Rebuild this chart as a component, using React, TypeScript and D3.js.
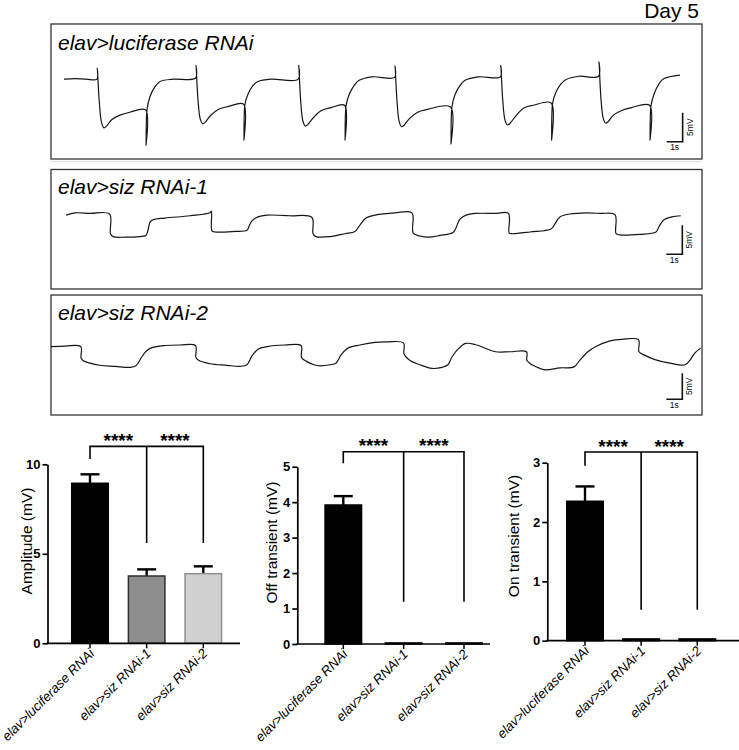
import { useEffect, useRef } from 'react';
import * as d3 from 'd3';

const W = 739;
const H = 750;
const FONT = 'Arial, "Liberation Sans", Helvetica, sans-serif';

const genotypes = ['elav>luciferase RNAi', 'elav>siz RNAi-1', 'elav>siz RNAi-2'];

// ERG recordings, [time (s), potential (mV) relative to the dark baseline]
const traceLuciferase: [number, number][] = [
  [0.81, -0.2], [1.5, -0.1], [2.2, -0.2], [2.87, -0.2],
  [2.89, 1.7], [3.01, -3.8], [3.16, -7.7], [3.31, -8.6], [3.47, -8.3], [3.79, -7.2], [4.31, -6.4], [4.93, -5.9], [5.91, -5.5],
  [5.94, -11.6], [6.0, -5.5], [6.19, -3.2], [6.5, -1.5], [6.82, -0.6], [7.64, -0.2], [9.04, 0],
  [9.06, 2.2], [9.18, -3.5], [9.33, -7.1], [9.48, -7.9], [9.64, -7.6], [9.96, -6.5], [10.48, -5.4], [11.1, -4.9], [12.03, -4.5],
  [12.06, -10.7], [12.12, -4.6], [12.31, -2.8], [12.62, -1.3], [12.94, -0.6], [13.76, -0.2], [15.46, -0.2],
  [15.48, 2.2], [15.6, -3.7], [15.75, -7.5], [15.9, -8.3], [16.06, -8.0], [16.38, -6.9], [16.9, -5.6], [17.52, -5.1], [18.35, -4.7],
  [18.38, -10.7], [18.44, -4.8], [18.63, -2.9], [18.94, -1.3], [19.26, -0.4], [20.08, 0.2], [21.48, 0.1],
  [21.5, 2.1], [21.62, -3.7], [21.77, -7.6], [21.92, -8.4], [22.08, -8.1], [22.4, -7.0], [22.92, -5.9], [23.54, -5.4], [24.97, -5.0],
  [25.0, -11.4], [25.06, -5.0], [25.25, -2.9], [25.56, -1.3], [25.88, -0.4], [26.7, 0.2], [28.09, 0.2],
  [28.11, 2.2], [28.23, -3.6], [28.38, -7.3], [28.53, -8.1], [28.69, -7.8], [29.01, -6.7], [29.53, -5.2], [30.15, -4.7], [31.26, -4.3],
  [31.29, -10.7], [31.35, -4.4], [31.54, -2.6], [31.85, -1.1], [32.17, -0.3], [32.99, 0.3], [34.23, 0.3],
  [34.25, 2.8], [34.37, -3.4], [34.52, -7.0], [34.67, -7.8], [34.83, -7.5], [35.15, -6.4], [35.67, -5.6], [36.29, -5.1], [37.41, -4.7],
  [37.44, -10.7], [37.5, -4.8], [37.69, -2.8], [38.0, -1.0], [38.32, -0.1], [39.31, 0.5],
];

const traceSiz1: [number, number][] = [
  [0.94, -0.2], [1.5, 0.2], [2.44, 0.1], [3.66, 0],
  [3.72, -3.4], [3.88, -3.9], [4.63, -4.0], [5.56, -3.9], [5.94, -3.7],
  [6.06, -2.8], [6.19, -1.4], [6.38, -1.0], [7.13, -0.7], [8.69, -0.3], [9.94, 0.2], [10.03, 0.5],
  [10.06, -2.9], [10.25, -3.1], [11.5, -3.0], [12.25, -2.8],
  [12.38, -2.1], [12.56, -1.2], [12.94, -0.5], [13.5, -0.2], [14.94, -0.3], [16.31, -0.6],
  [16.38, -3.4], [16.56, -3.9], [17.44, -3.9], [18.38, -3.4], [19.0, -3.0],
  [19.31, -1.9], [19.69, -0.7], [20.25, -0.2], [21.5, 0.2], [22.56, 0.2],
  [22.64, -3.3], [23.06, -3.8], [23.63, -4.0], [24.31, -3.7], [25.13, -3.2],
  [25.31, -2.4], [25.56, -0.9], [25.94, -0.2], [26.56, 0.1], [27.75, 0.1], [28.59, 0.1],
  [28.64, -3.3], [28.81, -3.4], [29.94, -3.1], [31.25, -2.6],
  [31.5, -1.7], [31.81, -0.5], [32.44, 0], [33.44, 0.2], [34.31, 0.1], [35.25, -0.1],
  [35.32, -3.4], [35.56, -3.6], [36.81, -3.5], [37.81, -3.1],
  [38.0, -2.2], [38.31, -1.0], [38.81, -0.5], [39.36, -0.3],
];

const traceSiz2: [number, number][] = [
  [0, -0.3], [0.88, -0.2], [1.86, -0.3],
  [1.88, -2.5], [2.0, -3.0], [2.44, -3.5], [3.06, -3.9], [4.0, -4.1], [4.94, -4.3], [5.31, -4.0],
  [5.63, -2.5], [5.94, -1.2], [6.31, -0.5], [7.13, -0.1], [8.06, 0], [9.03, -0.1],
  [9.06, -2.4], [9.25, -3.0], [9.94, -3.6], [11.0, -3.9], [11.81, -4.1], [12.25, -3.8],
  [12.56, -2.1], [12.94, -0.8], [13.5, -0.3], [14.63, 0], [15.63, -0.1],
  [15.66, -2.4], [15.94, -3.1], [16.44, -3.8], [16.81, -4.0], [17.44, -3.8], [17.81, -3.5],
  [18.13, -1.9], [18.56, -0.6], [19.31, 0], [20.25, 0.5], [21.0, 0.6], [22.03, 0.4],
  [22.07, -1.8], [22.44, -3.0], [23.06, -3.8], [23.81, -4.5], [24.44, -4.3], [24.81, -3.8],
  [25.06, -2.3], [25.44, -0.8], [25.92, 0.3], [26.5, 0.1], [27.79, -1.3], [28.69, -1.3], [29.72, -1.3],
  [29.75, -3.0], [30.06, -3.8], [30.56, -4.5], [30.94, -4.8], [31.81, -4.4], [32.69, -4.2],
  [33.06, -2.9], [33.56, -1.3], [34.06, -0.3], [34.94, 0.8], [35.69, 1.1], [36.72, 1.0],
  [36.75, -1.3], [37.06, -1.9], [37.75, -2.8], [38.69, -3.5], [39.63, -3.8],
  [39.94, -2.9], [40.25, -1.5], [40.61, -0.6],
];

// scale bar corner [s, mV] in each recording
const scaleBarLuciferase: [number, number] = [39.48, -10.98];
const scaleBarSiz1: [number, number] = [39.46, -6.95];
const scaleBarSiz2: [number, number] = [39.46, -10.44];
const scaleBarSeconds = 1;
const scaleBarMv = 5;

// quantification, mean and SEM
const amplitudeMean = [8.94, 3.76, 3.89];
const amplitudeSem = [0.5, 0.37, 0.41];
const amplitudeTicks = [0, 5, 10];
const offMean = [3.92, 0.03, 0.03];
const offSem = [0.25, 0, 0];
const offTicks = [0, 1, 2, 3, 4, 5];
const onMean = [2.35, 0.03, 0.03];
const onSem = [0.25, 0, 0];
const onTicks = [0, 1, 2, 3];

// significance brackets: [bracket top, left leg end, other legs end] in axis units
const amplitudeBracket = [11.0, 10.3, 5.6];
const offBracket = [5.42, 5.1, 1.19];
const onBracket = [3.18, 2.95, 0.52];
const sigLabel = '****';

const tracePanels = [
  { label: genotypes[0], data: traceLuciferase, bar: scaleBarLuciferase, top: 24, bottom: 159, zeroY: 78, px5: 29, labelY: 50 },
  { label: genotypes[1], data: traceSiz1, bar: scaleBarSiz1, top: 169.5, bottom: 289, zeroY: 214, px5: 29, labelY: 193.5 },
  { label: genotypes[2], data: traceSiz2, bar: scaleBarSiz2, top: 295, bottom: 415, zeroY: 345, px5: 26, labelY: 319.5 },
];

const barCharts = [
  { title: 'Amplitude (mV)', mean: amplitudeMean, sem: amplitudeSem, ticks: amplitudeTicks, bracket: amplitudeBracket,
    axisX: 47.5, axisEnd: 240, zeroY: 643.3, topY: 464.3, first: 90, last: 203.3, titleX: 32, titleY: 541 },
  { title: 'Off transient (mV)', mean: offMean, sem: offSem, ticks: offTicks, bracket: offBracket,
    axisX: 297.3, axisEnd: 490, zeroY: 644, topY: 466.7, first: 343.3, last: 464, titleX: 277, titleY: 542.5 },
  { title: 'On transient (mV)', mean: onMean, sem: onSem, ticks: onTicks, bracket: onBracket,
    axisX: 547.3, axisEnd: 739, zeroY: 640.7, topY: 462.7, first: 585, last: 697.3, titleX: 519, titleY: 536 },
];

const barFills = ['#000000', '#8e8e8e', '#d0d0d0'];
const barStrokes = ['#000000', '#2e2e2e', '#909090'];

export default function App() {
  const svgRef = useRef<SVGSVGElement>(null);

  useEffect(() => {
    if (!svgRef.current) return;
    const svg = d3.select(svgRef.current);
    svg.selectAll('*').remove();

    svg.append('rect').attr('width', W).attr('height', H).attr('fill', '#fff');

    svg.append('text')
      .attr('x', 699).attr('y', 18)
      .attr('text-anchor', 'end')
      .style('font-size', '21px')
      .text('Day 5');

    // ERG traces
    const tScale = d3.scaleLinear().domain([0, 40.69]).range([51, 702]);

    // faint scan edge under the first recording
    svg.append('line')
      .attr('x1', 51).attr('x2', 702)
      .attr('y1', 161.5).attr('y2', 161.5)
      .attr('stroke', '#dcdcdc')
      .attr('stroke-width', 1.2);

    tracePanels.forEach((p, i) => {
      const g = svg.append('g');
      const clipId = `clip-${i}`;
      g.append('clipPath').attr('id', clipId)
        .append('rect')
        .attr('x', 51).attr('y', p.top)
        .attr('width', 651).attr('height', p.bottom - p.top);

      g.append('rect')
        .attr('x', 51).attr('y', p.top)
        .attr('width', 651).attr('height', p.bottom - p.top)
        .attr('fill', 'none')
        .attr('stroke', '#333')
        .attr('stroke-width', 1.3);

      g.append('text')
        .attr('x', 58).attr('y', p.labelY)
        .style('font-size', '21px')
        .style('font-style', 'italic')
        .text(p.label);

      const v = d3.scaleLinear().domain([0, -5]).range([p.zeroY, p.zeroY + p.px5]);
      const line = d3.line<[number, number]>()
        .x(d => tScale(d[0]))
        .y(d => v(d[1]))
        .curve(d3.curveCatmullRom.alpha(0.5));

      g.append('path')
        .datum(p.data)
        .attr('clip-path', `url(#${clipId})`)
        .attr('fill', 'none')
        .attr('stroke', '#151515')
        .attr('stroke-width', 1.2)
        .attr('stroke-linejoin', 'round')
        .attr('d', line);

      // scale bar
      const [bt, bv] = p.bar;
      const x0 = tScale(bt - scaleBarSeconds);
      const x1 = tScale(bt);
      const yb = v(bv);
      const yt = v(bv + scaleBarMv);
      g.append('path')
        .attr('d', `M${x0},${yb}H${x1}V${yt}`)
        .attr('fill', 'none')
        .attr('stroke', '#111')
        .attr('stroke-width', 1.6);
      g.append('text')
        .attr('x', (x0 + x1) / 2).attr('y', yb + 8.5)
        .attr('text-anchor', 'middle')
        .style('font-size', '8.5px')
        .text('1s');
      g.append('text')
        .attr('transform', `translate(${x1 + 10},${(yb + yt) / 2}) rotate(-90)`)
        .attr('text-anchor', 'middle')
        .style('font-size', '8.5px')
        .text('5mV');
    });

    // quantification bar charts
    barCharts.forEach(c => {
      const g = svg.append('g');
      const y = d3.scaleLinear().domain([0, c.ticks[c.ticks.length - 1]]).range([c.zeroY, c.topY]);
      const x = d3.scalePoint<string>().domain(genotypes).range([c.first, c.last]);
      const bw = 38;

      genotypes.forEach((name, j) => {
        const cx = x(name) as number;
        const m = c.mean[j];
        const s = c.sem[j];
        if (s > 0) {
          g.append('line')
            .attr('x1', cx).attr('x2', cx)
            .attr('y1', y(m)).attr('y2', y(m + s))
            .attr('stroke', '#000').attr('stroke-width', 2.4);
          g.append('line')
            .attr('x1', cx - 9.5).attr('x2', cx + 9.5)
            .attr('y1', y(m + s)).attr('y2', y(m + s))
            .attr('stroke', '#000').attr('stroke-width', 2.4);
        }
        g.append('rect')
          .attr('x', cx - bw / 2 + 0.75)
          .attr('y', y(m))
          .attr('width', bw - 1.5)
          .attr('height', Math.max(0.5, y(0) - y(m)))
          .attr('fill', c.sem[j] > 0 ? barFills[j] : '#000')
          .attr('stroke', c.sem[j] > 0 ? barStrokes[j] : '#000')
          .attr('stroke-width', 1.5);
      });

      // y axis
      const yAxis = g.append('g')
        .attr('transform', `translate(${c.axisX},0)`)
        .call(d3.axisLeft(y).tickValues(c.ticks).tickSize(5).tickSizeOuter(0).tickPadding(2).tickFormat(d3.format('d')));
      yAxis.select('.domain').attr('stroke', '#000').attr('stroke-width', 1.7);
      yAxis.selectAll('.tick line').attr('stroke', '#000').attr('stroke-width', 1.7);
      yAxis.selectAll('.tick text')
        .attr('fill', '#000')
        .style('font-family', FONT)
        .style('font-size', '13px')
        .style('font-weight', 'bold');

      // x axis
      g.append('line')
        .attr('x1', c.axisX - 0.85).attr('x2', c.axisEnd)
        .attr('y1', c.zeroY).attr('y2', c.zeroY)
        .attr('stroke', '#000').attr('stroke-width', 1.7);
      genotypes.forEach(name => {
        const cx = x(name) as number;
        g.append('line')
          .attr('x1', cx).attr('x2', cx)
          .attr('y1', c.zeroY).attr('y2', c.zeroY + 5)
          .attr('stroke', '#000').attr('stroke-width', 1.5);
        g.append('text')
          .attr('transform', `translate(${cx + 5},${c.zeroY + 11}) rotate(-45)`)
          .attr('text-anchor', 'end')
          .style('font-size', '13.3px')
          .style('font-style', 'italic')
          .text(name);
      });

      g.append('text')
        .attr('transform', `translate(${c.titleX},${c.titleY}) rotate(-90)`)
        .attr('text-anchor', 'middle')
        .style('font-size', '15.5px')
        .text(c.title);

      // significance bracket
      const [top, leftEnd, legEnd] = c.bracket;
      const xa = x(genotypes[0]) as number;
      const xb = x(genotypes[1]) as number;
      const xc = x(genotypes[2]) as number;
      g.append('path')
        .attr('d', `M${xa},${y(leftEnd)}V${y(top)}H${xc}V${y(legEnd)}M${xb},${y(top)}V${y(legEnd)}`)
        .attr('fill', 'none')
        .attr('stroke', '#000')
        .attr('stroke-width', 1.6);
      [[xa, xb], [xb, xc]].forEach(([p, q]) => {
        g.append('text')
          .attr('x', (p + q) / 2).attr('y', y(top) + 0.5)
          .attr('text-anchor', 'middle')
          .style('font-size', '19px')
          .style('font-weight', 'bold')
          .text(sigLabel);
      });
    });
  }, []);

  return (
    <div style={{ position: 'absolute', left: 0, top: 0, width: W, height: H, background: '#fff' }}>
      <svg ref={svgRef} width={W} height={H} style={{ display: 'block', fontFamily: FONT }} />
    </div>
  );
}
